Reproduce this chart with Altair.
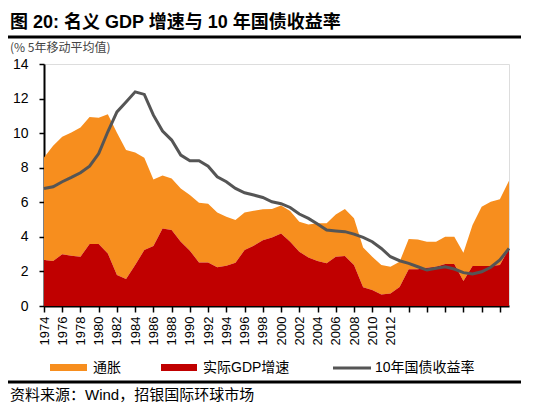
import altair as alt
import pandas as pd

years = list(range(1974, 2026))

real_gdp = [2.66, 2.6, 3.0, 2.9, 2.85, 3.58, 3.58, 3.04, 1.79, 1.56,
            2.37, 3.24, 3.47, 4.49, 4.39, 3.72, 3.2, 2.52, 2.52, 2.24,
            2.33, 2.5, 3.24, 3.49, 3.81, 3.97, 4.2, 3.72, 3.14, 2.81,
            2.6, 2.47, 2.85, 2.89, 2.37, 1.08, 0.92, 0.67, 0.73, 1.1,
            2.12, 2.12, 2.22, 2.27, 2.43, 2.43, 1.45, 2.31, 2.31, 2.31,
            2.37, 3.33]

nominal_gdp = [8.59, 9.27, 9.79, 10.04, 10.33, 10.94, 10.89, 11.1, 10.02, 9.02,
               8.88, 8.57, 7.32, 7.55, 7.38, 6.8, 6.42, 5.97, 5.92, 5.41,
               5.16, 4.97, 5.41, 5.51, 5.59, 5.61, 5.82, 5.49, 4.87, 4.72,
               4.78, 4.78, 5.3, 5.61, 5.07, 3.39, 2.85, 2.37, 2.27, 2.56,
               3.87, 3.85, 3.72, 3.72, 4.01, 4.01, 3.08, 4.68, 5.74, 6.03,
               6.18, 7.24]

bond_yield = [6.8, 6.9, 7.19, 7.44, 7.71, 8.09, 8.82, 10.08, 11.23, 11.8,
              12.39, 12.24, 11.04, 10.12, 9.6, 8.73, 8.4, 8.4, 8.09, 7.48,
              7.19, 6.8, 6.55, 6.42, 6.28, 6.03, 5.92, 5.7, 5.32, 5.07,
              4.74, 4.39, 4.34, 4.3, 4.16, 3.97, 3.72, 3.33, 2.85, 2.62,
              2.47, 2.27, 2.08, 2.18, 2.27, 2.14, 1.93, 1.85, 1.98, 2.24,
              2.66, 3.33]

x_ticks = list(range(1974, 2025, 2))
y_ticks = list(range(0, 15, 2))

title_text = "图 20: 名义 GDP 增速与 10 年国债收益率"
unit_text = "(% 5年移动平均值)"
legend_labels = ["通胀", "实际GDP增速", "10年国债收益率"]
source_text = "资料来源：Wind，招银国际环球市场"

ORANGE = "#F78E1E"
RED = "#C00000"
GREY = "#555555"
FONT = "Liberation Sans, Noto Sans CJK SC"
CJK = "Noto Sans CJK SC"

df = pd.DataFrame({"year": years, "real": real_gdp,
                   "nominal": nominal_gdp, "bond": bond_yield})

x_enc = alt.X("year:Q",
              scale=alt.Scale(domain=[1974, 2025], nice=False, zero=False),
              axis=alt.Axis(values=x_ticks, tickCount=60, title=None, grid=False,
                            labelAngle=270, labelFontSize=13, labelFont=FONT,
                            labelColor="black",
                            labelExpr="datum.value <= 2012 ? '' + datum.value : ''",
                            tickSize=6, tickColor="black", tickWidth=1.5,
                            domainColor="black", domainWidth=2,
                            labelPadding=4, labelOverlap=False))
y_scale = alt.Scale(domain=[0, 14], nice=False)
y_axis = alt.Axis(values=y_ticks, tickCount=20, format="d", title=None,
                  grid=False, labelFontSize=14, labelOverlap=False,
                  labelFont=FONT, labelColor="black", tickSize=5,
                  tickColor="black", tickWidth=1.5, domainColor="black",
                  domainWidth=2, labelPadding=11)

base = alt.Chart(df)

orange_area = base.mark_area(color=ORANGE, opacity=1).encode(
    x=x_enc,
    y=alt.Y("nominal:Q", scale=y_scale, axis=y_axis),
    y2="real:Q",
)
red_area = base.mark_area(color=RED, opacity=1).encode(
    x="year:Q",
    y=alt.Y("real:Q", scale=y_scale),
)
line = base.mark_line(color=GREY, strokeWidth=3).encode(
    x="year:Q",
    y=alt.Y("bond:Q", scale=y_scale),
)


def text_layer(txt, x, y, size, color="black", weight="normal", font=FONT):
    return alt.Chart(pd.DataFrame({"t": [txt]})).mark_text(
        align="left", baseline="middle", fontSize=size, color=color,
        fontWeight=weight, font=font
    ).encode(x=alt.value(x), y=alt.value(y), text="t:N")


def hrule(x1, x2, y, color, width):
    return alt.Chart(pd.DataFrame({"a": [0]})).mark_rule(
        color=color, strokeWidth=width
    ).encode(x=alt.value(x1), x2=alt.value(x2), y=alt.value(y))


def rect(x1, x2, y1, y2, color):
    return alt.Chart(pd.DataFrame({"a": [0]})).mark_rect(color=color).encode(
        x=alt.value(x1), x2=alt.value(x2), y=alt.value(y1), y2=alt.value(y2))


annotations = [
    hrule(-36, 481, -27, "black", 3),
    rect(6, 43, 300, 307, ORANGE),
    text_layer(legend_labels[0], 49, 304, 14, font=CJK),
    rect(117, 153, 300, 307, RED),
    text_layer(legend_labels[1], 159, 304, 14, font=FONT),
    hrule(289, 327, 304, GREY, 3),
    text_layer(legend_labels[2], 331, 304, 14, font=FONT),
    hrule(-36, 481, 318, "black", 3),
    text_layer(source_text, -34, 331, 15, font=FONT),
]

title = alt.TitleParams(
    text=title_text, subtitle=unit_text, anchor="start", frame="group",
    dx=-34, dy=22, offset=4, fontSize=18, font=FONT, fontWeight="bold",
    color="black", subtitleFontSize=12, subtitleFont=CJK,
    subtitleColor="#444444", subtitlePadding=11,
)

chart = alt.layer(orange_area, red_area, line, *annotations).properties(
    width=465, height=242, title=title,
    padding={"left": 36, "top": 56, "right": 12, "bottom": 100},
    autosize="none",
).configure_view(stroke=None).configure(background="white")

chart.save("out.html", embed_options={"renderer": "svg", "actions": False})
